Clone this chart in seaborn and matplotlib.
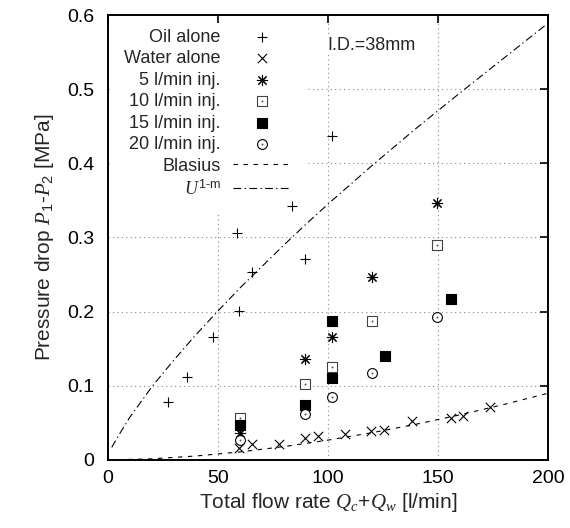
import matplotlib
matplotlib.use("Agg")
import matplotlib.pyplot as plt
import seaborn as sns
import numpy as np

# ---- data ----
oil_x = [27.3, 35.8, 47.9, 59.5, 65.6, 58.6, 83.8, 89.7, 102.0]
oil_y = [0.078, 0.112, 0.166, 0.201, 0.254, 0.306, 0.342, 0.271, 0.437]

water_x = [59.7, 65.6, 77.7, 89.5, 95.6, 107.7, 119.4, 125.5, 138.0, 155.8, 161.5, 173.6]
water_y = [0.016, 0.022, 0.021, 0.029, 0.032, 0.035, 0.039, 0.040, 0.052, 0.056, 0.059, 0.071]

inj5_x = [60.0, 89.5, 101.7, 119.9, 149.7]
inj5_y = [0.036, 0.136, 0.166, 0.247, 0.346]

inj10_x = [60.0, 89.5, 101.7, 119.9, 149.7]
inj10_y = [0.056, 0.102, 0.126, 0.187, 0.290]

inj15_x = [60.0, 89.5, 101.7, 101.7, 125.9, 155.8]
inj15_y = [0.047, 0.074, 0.110, 0.188, 0.140, 0.217]

inj20_x = [60.0, 89.5, 101.7, 119.9, 149.7]
inj20_y = [0.027, 0.062, 0.085, 0.117, 0.193]

blasius_x = [0, 20, 40, 60, 80, 100, 120, 140, 160, 180, 200]
blasius_y = [0.0, 0.0016, 0.0054, 0.0109, 0.0181, 0.0268, 0.0368, 0.0482, 0.0609, 0.0749, 0.090]

u_x = [1.7, 5, 10, 20, 30, 40, 50, 60, 70, 80, 90, 100, 120, 140, 160, 180, 200]
u_y = [0.017, 0.034, 0.058, 0.099, 0.135, 0.169, 0.201, 0.232, 0.261, 0.290, 0.318,
       0.345, 0.397, 0.447, 0.495, 0.542, 0.589]

x_ticks = [0, 50, 100, 150, 200]
y_ticks = [0, 0.1, 0.2, 0.3, 0.4, 0.5, 0.6]
y_ticklabels = ["0", "0.1", "0.2", "0.3", "0.4", "0.5", "0.6"]
x_grid = [50, 100, 150]
y_grid = [0.1, 0.2, 0.3, 0.4, 0.5]

# ---- style ----
sns.set_style("white")
plt.rcParams["font.family"] = ["Liberation Sans", "DejaVu Sans"]
plt.rcParams["mathtext.fontset"] = "custom"
plt.rcParams["mathtext.it"] = "Liberation Serif:italic"
plt.rcParams["mathtext.rm"] = "Liberation Sans"
plt.rcParams["mathtext.bf"] = "Liberation Sans:bold"

fig = plt.figure(figsize=(5.70, 5.28), dpi=100)
ax = fig.add_axes([108 / 570, 68 / 528, 440 / 570, 445 / 528])

FS = 13
TFS = 14
LFS = 15
mk_lw = 0.8

# grid as plain reference lines (kept below the legend)
for gx in x_grid:
    ax.axvline(gx, linestyle=(0, (1, 3)), color="#888888", linewidth=0.8, zorder=1)
for gy in y_grid:
    ax.axhline(gy, linestyle=(0, (1, 3)), color="#888888", linewidth=0.8, zorder=1)

sns.scatterplot(x=oil_x, y=oil_y, marker="+", s=55, color="black",
                linewidth=mk_lw, ax=ax, zorder=3)
h_oil = ax.collections[-1]
sns.scatterplot(x=water_x, y=water_y, marker="x", s=45, color="black",
                linewidth=mk_lw, ax=ax, zorder=3)
h_water = ax.collections[-1]
sns.scatterplot(x=inj5_x, y=inj5_y, marker=(8, 2, 0), s=55, color="black",
                linewidth=mk_lw, ax=ax, zorder=3)
h5 = ax.collections[-1]
sns.scatterplot(x=inj10_x, y=inj10_y, marker="s", s=55, facecolor="white",
                edgecolor="#444444", linewidth=mk_lw, ax=ax, zorder=3)
h10a = ax.collections[-1]
sns.scatterplot(x=inj10_x, y=inj10_y, marker="o", s=2, color="#555555",
                linewidth=0, ax=ax, zorder=4)
h10b = ax.collections[-1]
sns.scatterplot(x=inj15_x, y=inj15_y, marker="s", s=55, color="black",
                edgecolor="black", linewidth=mk_lw, ax=ax, zorder=3)
h15 = ax.collections[-1]
sns.scatterplot(x=inj20_x, y=inj20_y, marker="o", s=50, facecolor="white",
                edgecolor="black", linewidth=mk_lw, ax=ax, zorder=3)
h20a = ax.collections[-1]
sns.scatterplot(x=inj20_x, y=inj20_y, marker="o", s=2, color="#555555",
                linewidth=0, ax=ax, zorder=4)
h20b = ax.collections[-1]

sns.lineplot(x=blasius_x, y=blasius_y, color="black", linewidth=0.8,
             estimator=None, sort=False, ax=ax, zorder=2)
l_bl = ax.lines[-1]
l_bl.set_dashes((4, 5))
sns.lineplot(x=u_x, y=u_y, color="black", linewidth=0.8,
             estimator=None, sort=False, ax=ax, zorder=2)
l_u = ax.lines[-1]
l_u.set_dashes((7, 3, 1.2, 3))

ax.set_xlim(0, 200)
ax.set_ylim(0, 0.6)
ax.set_xticks(x_ticks)
ax.set_yticks(y_ticks)
ax.set_yticklabels(y_ticklabels)
ax.grid(False)
ax.set_axisbelow(False)
ax.tick_params(direction="in", length=6, width=1.2, top=True, right=True,
               labelsize=TFS, colors="black")
ax.tick_params(axis="x", pad=7)
ax.tick_params(axis="y", pad=10)
for sp in ax.spines.values():
    sp.set_visible(True)
    sp.set_color("black")
    sp.set_linewidth(1.4)
    sp.set_zorder(10)

ax.set_xlabel(r"Total flow rate $Q_c$+$Q_w$ [l/min]", fontsize=LFS, labelpad=3)
ax.set_ylabel(r"Pressure drop $P_1$-$P_2$ [MPa]", fontsize=LFS, labelpad=8)

ax.text(99.5, 0.5595, "I.D.=38mm", fontsize=FS, ha="left", va="center",
        bbox=dict(facecolor="white", edgecolor="none", pad=1), zorder=5)

handles = [h_oil, h_water, h5, (h10a, h10b), h15, (h20a, h20b), l_bl, l_u]
labels = ["Oil alone", "Water alone", "5 l/min inj.", "10 l/min inj.",
          "15 l/min inj.", "20 l/min inj.", "Blasius", r"$U^{\text{1-m}}$"]
leg = ax.legend(handles, labels, loc="upper right", bbox_to_anchor=(0.445, 0.998),
                borderaxespad=0.0, markerfirst=False, fontsize=FS,
                frameon=True, framealpha=1.0, facecolor="white", edgecolor="white",
                fancybox=False, handlelength=3.2, handletextpad=0.7,
                labelspacing=0.25, borderpad=0.7)
leg.set_zorder(2.2)

fig.savefig("out.png", dpi=100)
